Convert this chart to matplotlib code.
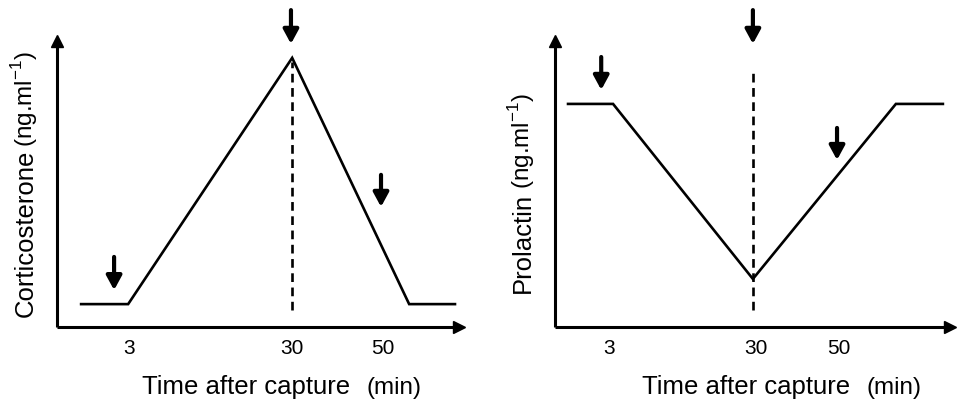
import matplotlib.pyplot as plt

plt.rcParams['font.family'] = ['Liberation Sans', 'DejaVu Sans']

# schematic time axis (arbitrary units, 0-100) with labelled ticks
tick_labels = ['3', '30', '50']

# corticosterone panel
cort_ticks = [17.9, 58.5, 81.1]
cort_x = [6.0, 17.7, 58.5, 87.6, 99.0]
cort_y = [8.0, 8.0, 94.1, 8.0, 8.0]
cort_dash_x = 58.5
cort_dash_y = [5.9, 92.7]
cort_arrow_x = [14.2, 58.2, 80.6]
cort_arrow_top = [24.5, 110.8, 53.2]
cort_arrow_tip = [12.9, 99.0, 42.0]

# prolactin panel
prl_ticks = [13.7, 50.9, 71.9]
prl_x = [3.3, 14.7, 50.1, 86.3, 98.2]
prl_y = [78.0, 78.0, 16.8, 78.0, 78.0]
prl_dash_x = 50.1
prl_dash_y = [5.9, 90.6]
prl_arrow_x = [11.7, 50.1, 71.4]
prl_arrow_top = [94.4, 110.8, 69.6]
prl_arrow_tip = [82.9, 99.0, 58.4]

W, H = 957, 405
fig = plt.figure(figsize=(W / 100, H / 100), dpi=100)


def px_axes(x0, x1, y_bottom, y_top):
    return fig.add_axes([x0 / W, 1 - y_bottom / H, (x1 - x0) / W, (y_bottom - y_top) / H])


def draw_panel(ax, x, y, dash_x, dash_y, ticks, ax_x, ax_top, ax_tip):
    ax.set_xlim(0, 100)
    ax.set_ylim(0, 100)
    for side in ['top', 'right']:
        ax.spines[side].set_visible(False)
    for side in ['left', 'bottom']:
        ax.spines[side].set_linewidth(2.2)
        ax.spines[side].set_capstyle('butt')
    ax.plot(1, 0, '>k', ms=8.5, transform=ax.get_yaxis_transform(), clip_on=False)
    ax.plot(0, 1, '^k', ms=8.5, transform=ax.get_xaxis_transform(), clip_on=False)

    ax.plot(x, y, color='black', lw=1.9, solid_joinstyle='miter', clip_on=False)
    ax.plot([dash_x, dash_x], dash_y, color='black', lw=1.9, dashes=(3.3, 2.1), clip_on=False)

    for xa, yt, yb in zip(ax_x, ax_top, ax_tip):
        ax.annotate('', xy=(xa, yb), xytext=(xa, yt), annotation_clip=False,
                    arrowprops=dict(arrowstyle='-|>,head_length=0.7,head_width=0.38',
                                    lw=3.0, color='black', mutation_scale=12,
                                    shrinkA=0, shrinkB=0))

    ax.set_xticks(ticks, tick_labels, fontsize=15)
    ax.set_yticks([])
    ax.tick_params(axis='x', length=0, pad=9)


ax1 = px_axes(57, 459, 327, 41)
draw_panel(ax1, cort_x, cort_y, cort_dash_x, cort_dash_y, cort_ticks,
           cort_arrow_x, cort_arrow_top, cort_arrow_tip)

ax2 = px_axes(555, 950, 327, 41)
draw_panel(ax2, prl_x, prl_y, prl_dash_x, prl_dash_y, prl_ticks,
           prl_arrow_x, prl_arrow_top, prl_arrow_tip)

# axis titles: main part large, units smaller
unit = '(ng.ml$^{\\mathregular{-1}}$)'
fig.text(142 / W, 1 - 394 / H, 'Time after capture', fontsize=18.5, ha='left', va='baseline')
fig.text(367 / W, 1 - 394 / H, '(min)', fontsize=17.5, ha='left', va='baseline')
fig.text(642 / W, 1 - 394 / H, 'Time after capture', fontsize=18.5, ha='left', va='baseline')
fig.text(866 / W, 1 - 394 / H, '(min)', fontsize=17.5, ha='left', va='baseline')

fig.text(33 / W, 1 - 317 / H, 'Corticosterone', fontsize=18.5, rotation=90,
         rotation_mode='anchor', ha='left', va='baseline')
fig.text(33 / W, 1 - 147 / H, unit, fontsize=17.5, rotation=90,
         rotation_mode='anchor', ha='left', va='baseline')
fig.text(530 / W, 1 - 293 / H, 'Prolactin', fontsize=18.5, rotation=90,
         rotation_mode='anchor', ha='left', va='baseline')
fig.text(530 / W, 1 - 189 / H, unit, fontsize=17.5, rotation=90,
         rotation_mode='anchor', ha='left', va='baseline')

fig.savefig('out.png', dpi=100)
